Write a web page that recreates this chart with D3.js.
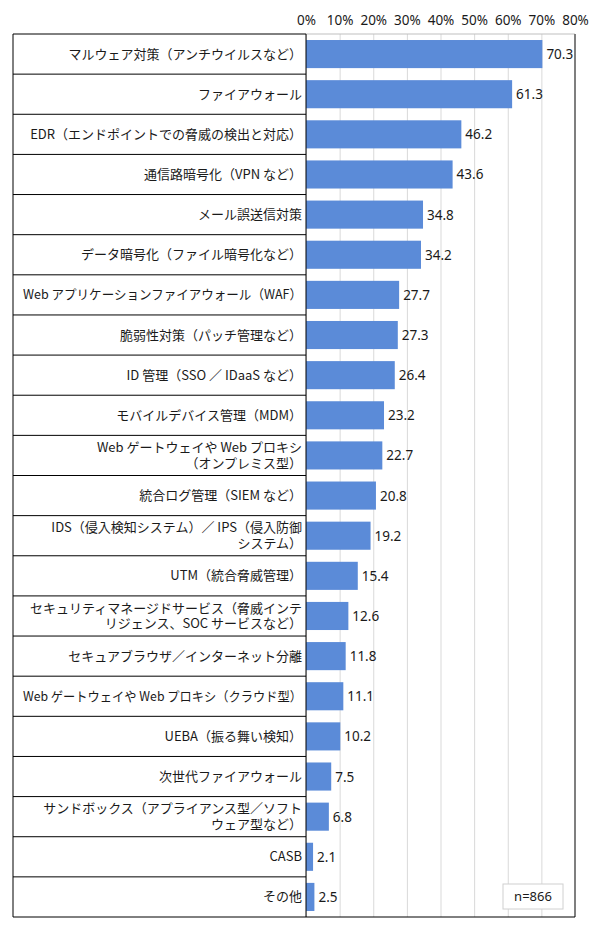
<!DOCTYPE html>
<html>
<head>
<meta charset="utf-8">
<script src="https://cdn.jsdelivr.net/npm/d3@7"></script>
<style>
  body { margin: 0; background: #fff; }
  text { font-family: "Noto Sans CJK JP", "Noto Sans", sans-serif; fill: #1a1a1a; }
</style>
</head>
<body>
<div id="chart"></div>
<script>
// categories (line breaks as in the original table)
var categories = [
    "マルウェア対策（アンチウイルスなど）",
    "ファイアウォール",
    "EDR（エンドポイントでの脅威の検出と対応）",
    "通信路暗号化（VPN など）",
    "メール誤送信対策",
    "データ暗号化（ファイル暗号化など）",
    "Web アプリケーションファイアウォール（WAF）",
    "脆弱性対策（パッチ管理など）",
    "ID 管理（SSO ／ IDaaS など）",
    "モバイルデバイス管理（MDM）",
    "Web ゲートウェイや Web プロキシ\n（オンプレミス型）",
    "統合ログ管理（SIEM など）",
    "IDS（侵入検知システム）／ IPS（侵入防御\nシステム）",
    "UTM（統合脅威管理）",
    "セキュリティマネージドサービス（脅威インテ\nリジェンス、SOC サービスなど）",
    "セキュアブラウザ／インターネット分離",
    "Web ゲートウェイや Web プロキシ（クラウド型）",
    "UEBA（振る舞い検知）",
    "次世代ファイアウォール",
    "サンドボックス（アプライアンス型／ソフト\nウェア型など）",
    "CASB",
    "その他"
];
var values = [70.3, 61.3, 46.2, 43.6, 34.8, 34.2, 27.7, 27.3, 26.4, 23.2, 22.7,
              20.8, 19.2, 15.4, 12.6, 11.8, 11.1, 10.2, 7.5, 6.8, 2.1, 2.5];
var tickValues = [0, 10, 20, 30, 40, 50, 60, 70, 80];
var sampleNote = "n=866";

var width = 590, height = 934;
var boxLeft = 13, plotLeft = 306, plotRight = 575, plotTop = 34, plotBottom = 917;

var svg = d3.select("#chart").append("svg")
    .attr("width", width)
    .attr("height", height);

var x = d3.scaleLinear().domain([0, 80]).range([plotLeft, plotRight]);
var y = d3.scaleBand()
    .domain(d3.range(categories.length))
    .range([plotTop, plotBottom])
    .paddingInner(0.3)
    .paddingOuter(0.15);

//gridlines + tick labels
var axis = svg.append("g")
    .attr("transform", "translate(0," + plotTop + ")")
    .call(d3.axisTop(x)
        .tickValues(tickValues)
        .tickSize(-(plotBottom - plotTop))
        .tickPadding(9)
        .tickFormat(function (d) { return d + "%"; }));
axis.select(".domain").remove();
axis.selectAll(".tick line").attr("stroke", "#d9d9d9");
axis.selectAll(".tick text")
    .style("font-size", "13.5px")
    .style("font-family", "'Noto Sans', sans-serif")
    .attr("fill", "#1a1a1a");

//plot frame
svg.append("line")
    .attr("x1", plotLeft).attr("x2", plotRight)
    .attr("y1", plotTop).attr("y2", plotTop)
    .attr("stroke", "#bfbfbf");
svg.append("line")
    .attr("x1", plotRight).attr("x2", plotRight)
    .attr("y1", plotTop).attr("y2", plotBottom)
    .attr("stroke", "#7f7f7f")
    .attr("stroke-width", 2);

//bars
svg.selectAll("rect.bar").data(values)
    .enter().append("rect")
    .attr("class", "bar")
    .attr("x", x(0))
    .attr("y", function (d, i) { return y(i); })
    .attr("width", function (d) { return x(d) - x(0); })
    .attr("height", y.bandwidth())
    .attr("fill", "#5b8bd8");

//value labels
svg.selectAll("text.value").data(values)
    .enter().append("text")
    .attr("class", "value")
    .attr("x", function (d) { return x(d) + 4; })
    .attr("y", function (d, i) { return y(i) + y.bandwidth() / 2 + 5; })
    .style("font-size", "13.5px")
    .style("font-family", "'Noto Sans', sans-serif")
    .text(function (d) { return d.toFixed(1); });

//label table
var step = y.step();
svg.selectAll("line.row").data(d3.range(categories.length + 1))
    .enter().append("line")
    .attr("class", "row")
    .attr("x1", boxLeft)
    .attr("x2", function (d) { return d == categories.length ? plotRight : plotLeft; })
    .attr("y1", function (d) { return plotTop + d * step; })
    .attr("y2", function (d) { return plotTop + d * step; })
    .attr("stroke", "#000");
svg.append("line")
    .attr("x1", boxLeft).attr("x2", boxLeft)
    .attr("y1", plotTop).attr("y2", plotBottom)
    .attr("stroke", "#000");
svg.append("line")
    .attr("x1", plotLeft).attr("x2", plotLeft)
    .attr("y1", plotTop).attr("y2", plotBottom)
    .attr("stroke", "#000");

var maxLabel = plotLeft - boxLeft - 14;
svg.selectAll("g.cat").data(categories)
    .enter().append("g")
    .attr("class", "cat")
    .each(function (d, i) {
        var lines = d.split("\n");
        var cy = y(i) + y.bandwidth() / 2;
        var g = d3.select(this);
        lines.forEach(function (line, j) {
            var t = g.append("text")
                .attr("x", plotLeft - 4)
                .attr("y", cy + (j - (lines.length - 1) / 2) * 15.5 + 4.5)
                .attr("text-anchor", "end")
                .style("font-size", "13px")
                .text(line);
            // squeeze the long ones so they stay inside the box
            if (t.node().getComputedTextLength() > maxLabel) {
                t.attr("textLength", maxLabel).attr("lengthAdjust", "spacingAndGlyphs");
            }
        });
    });

//sample size box
svg.append("rect")
    .attr("x", 503).attr("y", 884)
    .attr("width", 60).attr("height", 25)
    .attr("fill", "#fff")
    .attr("stroke", "#d0d0d0");
svg.append("text")
    .attr("x", 533).attr("y", 901)
    .attr("text-anchor", "middle")
    .style("font-size", "13px")
    .style("font-family", "'Noto Sans', sans-serif")
    .text(sampleNote);
</script>
</body>
</html>
